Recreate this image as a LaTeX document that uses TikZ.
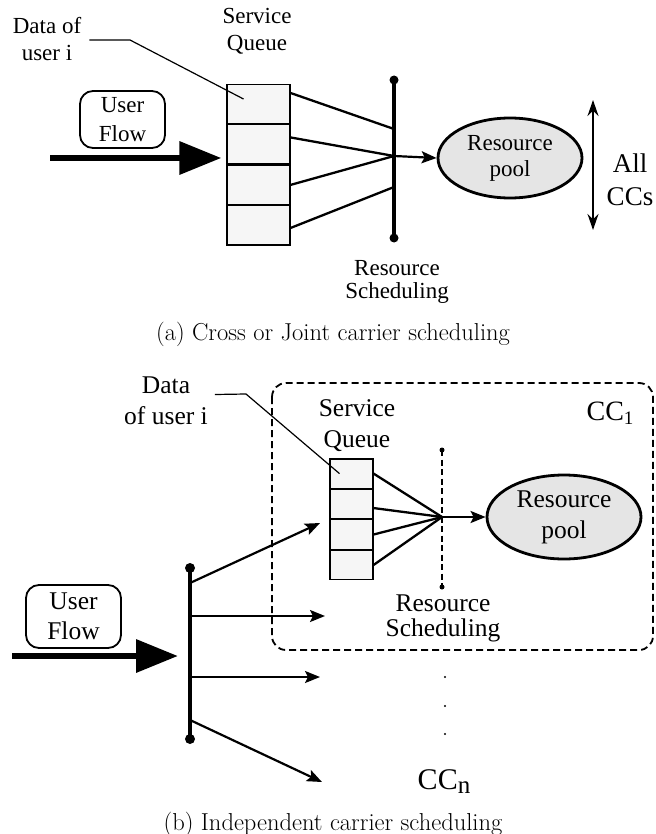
\documentclass[tikz,border=0pt]{standalone}
\usepackage{fontspec}
\newfontfamily\tnr{Liberation Serif}
\usetikzlibrary{arrows.meta,positioning,shapes.geometric}

\begin{document}
\begin{tikzpicture}[x=1pt,y=-1pt,
    lbl/.style={font=\tnr\fontsize{23}{27}\selectfont, align=center, inner sep=0pt},
    lblb/.style={font=\tnr\fontsize{25.5}{31}\selectfont, align=center, inner sep=0pt},
    cella/.style={draw, line width=1.2pt, fill=gray!7, minimum width=63pt, minimum height=39.25pt, inner sep=0pt},
    cellb/.style={draw, line width=1.2pt, fill=gray!7, minimum width=43pt, minimum height=29.25pt, inner sep=0pt},
    pool/.style={ellipse, draw, line width=2.8pt, fill=gray!20, inner sep=0pt},
    flowbox/.style={draw, rounded corners=13pt, line width=1.8pt, inner sep=0pt},
    bigarrow/.style={line width=6.5pt, -{Triangle[length=42pt,width=32pt]}},
    feed/.style={line width=2.3pt},
    divider/.style={line width=2.4pt},
    thinarrow/.style={line width=2.2pt, -{Stealth[length=15pt,width=12pt,inset=3pt]}},
    ]
    \useasboundingbox (0,0) rectangle (655,834);

    % (a) joint scheduling
    \node[cella] (qa1) at (258.5,104) {};
    \node[cella, below=0pt of qa1] (qa2) {};
    \node[cella, below=0pt of qa2] (qa3) {};
    \node[cella, below=0pt of qa3] (qa4) {};
    \draw[divider] (qa1.south west) -- (qa1.south east);
    \draw[divider] (qa2.south west) -- (qa2.south east);
    \draw[divider] (qa3.south west) -- (qa3.south east);
    \node[lbl] (sqa) at (257,31) {Service\\Queue};
    \node[lbl] (dataa) at (47,39) {Data of\\user i};
    \coordinate (knota) at (130,40);
    \draw[line width=1.2pt] ([xshift=8pt,yshift=-1pt]dataa.east) -- (knota) -- ([xshift=-15pt,yshift=5pt]qa1.center);

    \node[flowbox, lbl, font=\tnr\fontsize{23}{29}\selectfont, minimum width=85pt, minimum height=57pt] (flowa) at (122.5,119.5) {User\\Flow};
    \coordinate (ina) at (50,158);
    \draw[bigarrow] (ina) -- ([xshift=-5pt]ina -| qa2.west);

    \coordinate (bta) at (394,80);
    \coordinate (bba) at (394,238);
    \coordinate (pa1) at (394,129);
    \coordinate (huba) at (394,156);
    \coordinate (pa4) at (394,187);
    \draw[feed] ([yshift=11pt]qa1.east) -- (pa1);
    \draw[feed] ([yshift=7pt]qa2.east) -- (huba);
    \draw[feed] (qa3.east) -- (huba);
    \draw[feed] ([yshift=-2.6pt]qa4.east) -- (pa4);
    \draw[line width=4.5pt] (bta) -- (bba);
    \fill (bta) circle (4.5pt);
    \fill (bba) circle (4.5pt);

    \node[pool, lbl, font=\tnr\fontsize{23}{26}\selectfont, minimum width=144pt, minimum height=80pt] (poola) at (510,158) {Resource\\pool};
    \draw[thinarrow] (huba) -- (poola.west);

    \coordinate (cta) at (593,100);
    \coordinate (cba) at (593,230);
    \draw[line width=1.6pt, {Stealth[length=16pt,width=11pt]}-{Stealth[length=16pt,width=11pt]}] (cta) -- (cba);
    \node[lbl, font=\tnr\fontsize{27}{33}\selectfont] (allcc) at (630,180) {All\\CCs};
    \node[lbl, font=\tnr\fontsize{23}{23}\selectfont] (rsa) at (397,281.5) {Resource\\Scheduling};

    \node[inner sep=0pt, font=\fontsize{24.5}{28}\selectfont] (capa) at (333,334) {(a) Cross or Joint carrier scheduling};

    % (b) independent scheduling
    \draw[line width=1.8pt, dash pattern=on 7pt off 4pt, rounded corners=14pt] (272,383) rectangle (653,650);
    \node[lblb, font=\tnr\fontsize{28}{31}\selectfont] (cc1) at (610,413) {CC\raisebox{-4pt}{\fontsize{19}{19}\selectfont 1}};

    \node[cellb] (qb1) at (351.5,473.6) {};
    \node[cellb, below=0pt of qb1] (qb2) {};
    \node[cellb, below=0pt of qb2] (qb3) {};
    \node[cellb, below=0pt of qb3] (qb4) {};
    \draw[divider] (qb1.south west) -- (qb1.south east);
    \draw[divider] (qb2.south west) -- (qb2.south east);
    \draw[divider] (qb3.south west) -- (qb3.south east);
    \node[lblb] (sqb) at (357,426) {Service\\Queue};
    \node[lblb] (datab) at (166,400.5) {Data\\of user i};
    \coordinate (knotb) at (246,394);
    \draw[line width=1.2pt] ([xshift=7pt,yshift=6pt]datab.east) -- (knotb) -- ([xshift=-12pt]qb1.center);

    \coordinate (btb) at (442,450);
    \coordinate (bbb) at (442,587);
    \coordinate (hubb) at (442,517);
    \draw[feed] (qb1.east) -- (hubb);
    \draw[feed] ([yshift=-4pt]qb2.east) -- (hubb);
    \draw[feed] (qb3.east) -- (hubb);
    \draw[feed] (qb4.east) -- (hubb);
    \draw[line width=2pt, dash pattern=on 6pt off 3.5pt] (btb) -- (bbb);
    \fill (btb) circle (2.5pt);
    \fill (bbb) circle (2.5pt);

    \node[pool, lblb, minimum width=154pt, minimum height=84pt] (poolb) at (564,517) {Resource\\pool};
    \draw[thinarrow] (hubb) -- (poolb.west);
    \node[lblb, font=\tnr\fontsize{25.5}{25}\selectfont] (rsb) at (443,618) {Resource\\Scheduling};

    \node[flowbox, lblb, font=\tnr\fontsize{25.5}{30}\selectfont, minimum width=95pt, minimum height=63pt] (flowb) at (73.5,616.5) {User\\Flow};
    \coordinate (inb) at (12,656);
    \coordinate (bts) at (190,568);
    \coordinate (bbs) at (190,739);
    \draw[bigarrow] (inb) -- ([xshift=-12pt]inb -| bts);
    \draw[line width=4.5pt] (bts) -- (bbs);
    \fill (bts) circle (5pt);
    \fill (bbs) circle (5pt);

    \coordinate (s1) at (190,583);
    \coordinate (s2) at (190,616);
    \coordinate (s3) at (190,677);
    \coordinate (s4) at (190,720);
    \coordinate (t1) at (320,523);
    \coordinate (t2) at (325,616);
    \coordinate (t3) at (320,677);
    \coordinate (t4) at (322,782);
    \draw[thinarrow] (s1) -- (t1);
    \draw[thinarrow] (s2) -- (t2);
    \draw[thinarrow] (s3) -- (t3);
    \draw[thinarrow] (s4) -- (t4);

    \fill (445,677) circle (1.2pt);
    \fill (445,706) circle (1.2pt);
    \fill (445,734) circle (1.2pt);
    \node[lblb, font=\tnr\fontsize{30}{36}\selectfont] (ccn) at (444,782) {CC\raisebox{-4pt}{\fontsize{25}{25}\selectfont n}};

    \node[inner sep=0pt, font=\fontsize{24.5}{28}\selectfont] (capb) at (333,824) {(b) Independent carrier scheduling};
\end{tikzpicture}
\end{document}
